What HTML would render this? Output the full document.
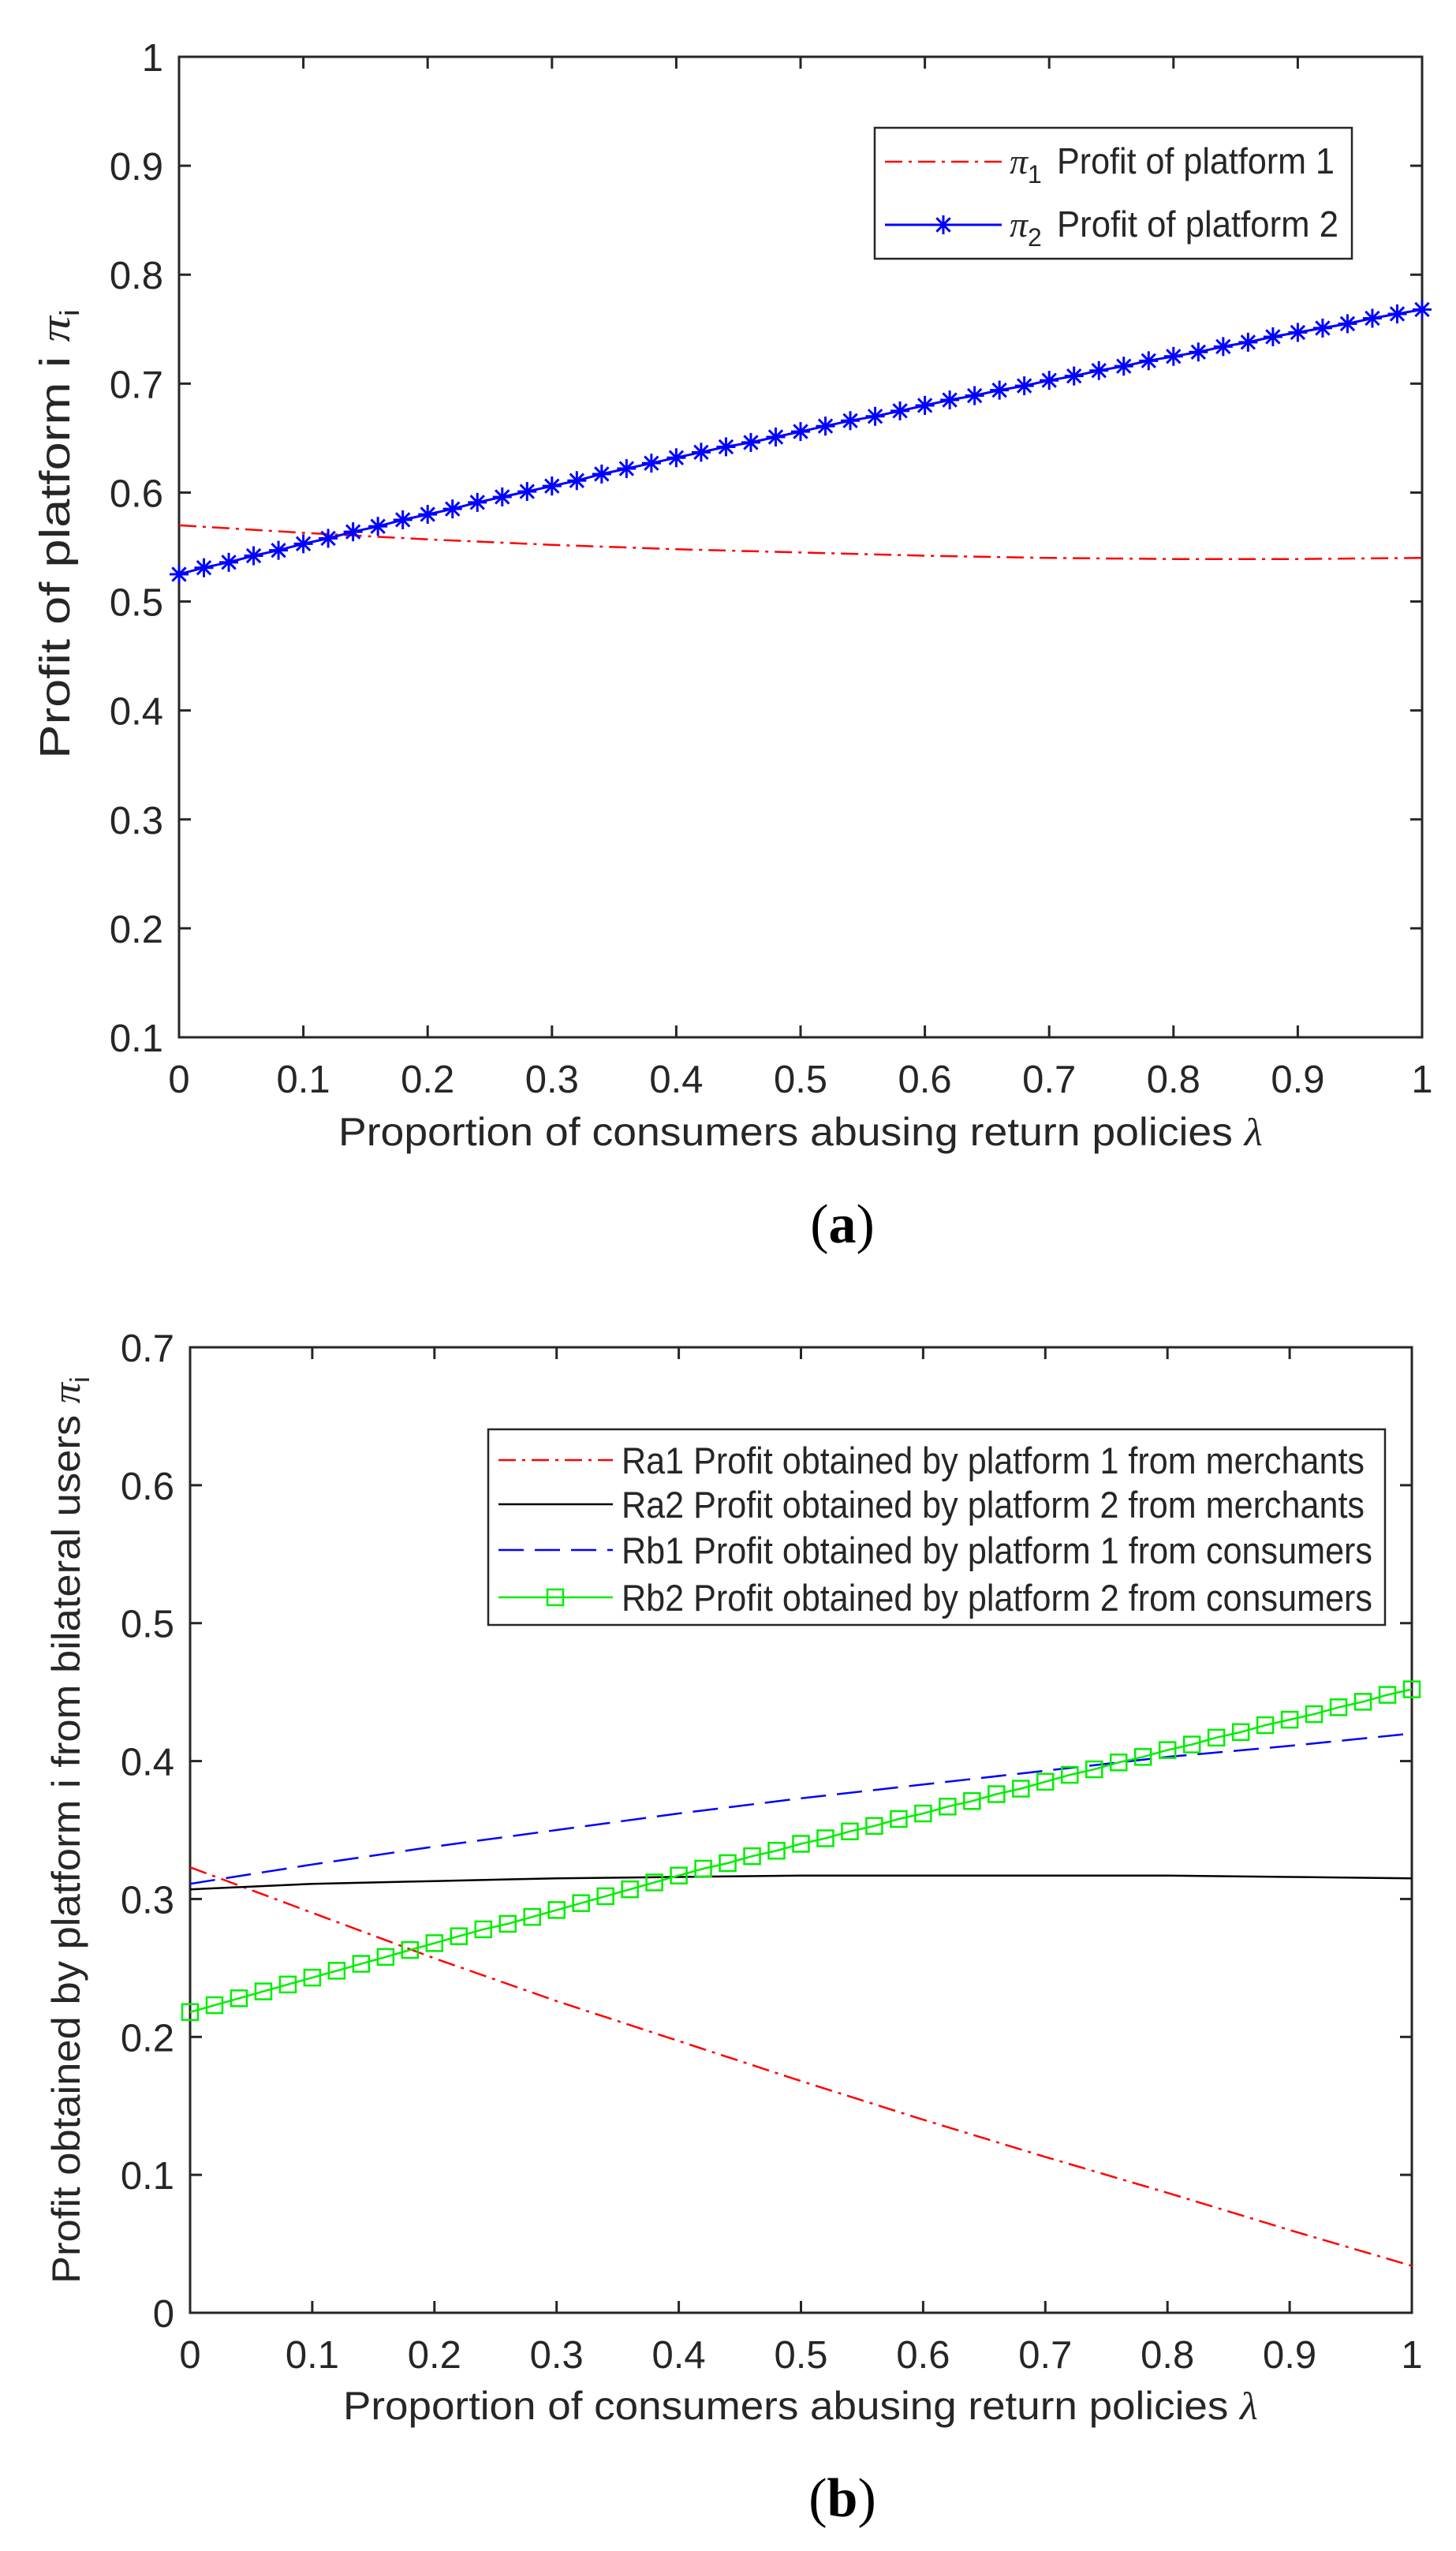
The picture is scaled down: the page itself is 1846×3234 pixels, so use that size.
<!DOCTYPE html>
<html><head><meta charset="utf-8"><style>
html,body{margin:0;padding:0;background:#fff;}
svg{display:block;}
text{font-family:"Liberation Sans",Arial,sans-serif;fill:#262626;}
</style></head><body>
<svg id="fig" width="1846" height="3234" viewBox="0 0 1846 3234" xmlns="http://www.w3.org/2000/svg"></svg>
<script>
// ---- Data: chart (a) ----
const xA11 = [0,0.1,0.2,0.3,0.4,0.5,0.6,0.7,0.8,0.9,1];
const pi1 = [0.570,0.563,0.557,0.552,0.548,0.545,0.542,0.540,0.539,0.539,0.540];
const xA51 = [0,0.02,0.04,0.06,0.08,0.1,0.12,0.14,0.16,0.18,0.2,0.22,0.24,0.26,0.28,0.3,0.32,0.34,0.36,0.38,0.4,0.42,0.44,0.46,0.48,0.5,0.52,0.54,0.56,0.58,0.6,0.62,0.64,0.66,0.68,0.7,0.72,0.74,0.76,0.78,0.8,0.82,0.84,0.86,0.88,0.9,0.92,0.94,0.96,0.98,1];
const pi2 = [0.525,0.531,0.536,0.542,0.547,0.553,0.558,0.564,0.569,0.575,0.580,0.585,0.591,0.596,0.601,0.606,0.611,0.617,0.622,0.627,0.632,0.637,0.642,0.646,0.651,0.656,0.661,0.666,0.670,0.675,0.680,0.685,0.689,0.694,0.698,0.703,0.707,0.712,0.716,0.721,0.725,0.729,0.734,0.738,0.743,0.747,0.751,0.755,0.760,0.764,0.768];
const xTicksA = ["0","0.1","0.2","0.3","0.4","0.5","0.6","0.7","0.8","0.9","1"];
const yTicksA = ["0.1","0.2","0.3","0.4","0.5","0.6","0.7","0.8","0.9","1"];
// ---- Data: chart (b) ----
const ra1 = [0.323,0.290,0.257,0.226,0.197,0.168,0.140,0.113,0.087,0.060,0.034];
const ra2 = [0.307,0.311,0.313,0.315,0.316,0.317,0.317,0.317,0.317,0.316,0.315];
const rb1 = [0.311,0.325,0.338,0.350,0.362,0.373,0.383,0.393,0.403,0.411,0.420];
const rb2 = [0.218,0.223,0.228,0.233,0.238,0.243,0.248,0.253,0.258,0.263,0.268,0.273,0.278,0.282,0.287,0.292,0.297,0.302,0.307,0.312,0.317,0.322,0.326,0.331,0.335,0.340,0.344,0.349,0.353,0.358,0.362,0.367,0.371,0.376,0.380,0.385,0.390,0.394,0.399,0.403,0.408,0.412,0.417,0.421,0.426,0.430,0.434,0.439,0.443,0.448,0.452];
const yTicksB = ["0","0.1","0.2","0.3","0.4","0.5","0.6","0.7"];

const NS="http://www.w3.org/2000/svg";
const svg=document.getElementById('fig');
function mk(tag,attrs,parent){const e=document.createElementNS(NS,tag);for(const k in attrs)e.setAttribute(k,attrs[k]);(parent||svg).appendChild(e);return e;}

function axes(g,L,T,R,B,x0,x1,y0,y1,xt,yt){
  const sx=v=>L+(v-x0)/(x1-x0)*(R-L);
  const sy=v=>B-(v-y0)/(y1-y0)*(B-T);
  const box=mk('rect',{x:L,y:T,width:R-L,height:B-T,fill:'none',stroke:'#262626','stroke-width':3},g);
  
  
  xt.forEach(t=>{const x=sx(parseFloat(t));
    mk('line',{x1:x,y1:B,x2:x,y2:B-15,stroke:'#262626','stroke-width':3},g);
    mk('line',{x1:x,y1:T,x2:x,y2:T+15,stroke:'#262626','stroke-width':3},g);
    const tx=mk('text',{x:x,y:B+70,'font-size':49,'text-anchor':'middle'},g);tx.textContent=t;
    
    
  });
  yt.forEach(t=>{const y=sy(parseFloat(t));
    mk('line',{x1:L,y1:y,x2:L+15,y2:y,stroke:'#262626','stroke-width':3},g);
    mk('line',{x1:R,y1:y,x2:R-15,y2:y,stroke:'#262626','stroke-width':3},g);
    const ty=mk('text',{x:L-20,y:y+18,'font-size':49,'text-anchor':'end'},g);ty.textContent=t;
    
    
  });
  return {sx,sy};
}
function line(g,xs,ys,s,color,dash,w,name){
  const pts=xs.map((x,i)=>s.sx(x).toFixed(1)+','+s.sy(ys[i]).toFixed(1)).join(' ');
  const p=mk('polyline',{points:pts,fill:'none',stroke:color,'stroke-width':w||3,'stroke-dasharray':dash||'none'},g);
  
  
  return p;
}
function star(g,x,y,c){const r=12;
  mk('line',{x1:x-r,y1:y,x2:x+r,y2:y,stroke:c,'stroke-width':3},g);
  mk('line',{x1:x,y1:y-r,x2:x,y2:y+r,stroke:c,'stroke-width':3},g);
  mk('line',{x1:x-r*.72,y1:y-r*.72,x2:x+r*.72,y2:y+r*.72,stroke:c,'stroke-width':3},g);
  mk('line',{x1:x-r*.72,y1:y+r*.72,x2:x+r*.72,y2:y-r*.72,stroke:c,'stroke-width':3},g);
}
function square(g,x,y,c){mk('rect',{x:x-10,y:y-10,width:20,height:20,fill:'none',stroke:c,'stroke-width':2.5},g);}
const DD='22 8 4 8', DASH='32 14';

// ===== Chart (a) =====
const ga=mk('g',{});


const A=axes(ga,227,72,1803,1315,0,1,0.1,1,xTicksA,yTicksA);
line(ga,xA11,pi1,A,'#ff0000',DD,2.5,'pi1-line');
line(ga,xA51,pi2,A,'#0000ff',null,3,'pi2-line');
const mA=mk('g',{},ga);


xA51.forEach((x,i)=>star(mA,A.sx(x),A.sy(pi2[i]),'#0000ff'));
let t;
t=mk('text',{x:1015,y:1452,'font-size':50,'text-anchor':'middle',textLength:1172,lengthAdjust:'spacingAndGlyphs'},ga);
t.innerHTML='Proportion of consumers abusing return policies <tspan font-family="Liberation Serif" font-style="italic">λ</tspan>';


t=mk('text',{x:0,y:0,'font-size':54,'text-anchor':'middle',transform:'translate(88,677) rotate(-90)',textLength:570,lengthAdjust:'spacingAndGlyphs'},ga);
t.innerHTML='Profit of platform i <tspan font-family="Liberation Serif" font-style="italic">π</tspan><tspan font-size="34" dy="12">i</tspan>';


// legend a
const la=mk('g',{},ga);


mk('rect',{x:1109,y:162,width:605,height:166,fill:'#fff',stroke:'#262626','stroke-width':2.5},la);
mk('line',{x1:1122,y1:205,x2:1270,y2:205,stroke:'#ff0000','stroke-width':2.5,'stroke-dasharray':DD},la);
mk('line',{x1:1122,y1:285,x2:1270,y2:285,stroke:'#0000ff','stroke-width':3},la);
star(la,1196,285,'#0000ff');
t=mk('text',{x:1280,y:220,'font-size':46},la);
t.innerHTML='<tspan font-family="Liberation Serif" font-style="italic">π</tspan><tspan font-size="32" dy="12">1</tspan><tspan dy="-12" x="1340" textLength="352" lengthAdjust="spacingAndGlyphs">Profit of platform 1</tspan>';


t=mk('text',{x:1280,y:300,'font-size':46},la);
t.innerHTML='<tspan font-family="Liberation Serif" font-style="italic">π</tspan><tspan font-size="32" dy="12">2</tspan><tspan dy="-12" x="1340" textLength="357" lengthAdjust="spacingAndGlyphs">Profit of platform 2</tspan>';


t=mk('text',{x:1068,y:1575,'font-size':70,'text-anchor':'middle'},ga);
t.innerHTML='(<tspan font-weight="bold">a</tspan>)';
t.style.fontFamily='"Liberation Serif",serif';t.style.fill='#000';



// ===== Chart (b) =====
const gb=mk('g',{});


const Bx=axes(gb,241,1708,1790,2932,0,1,0,0.7,xTicksA,yTicksB);
line(gb,xA11,ra1,Bx,'#ff0000',DD,2.5,'ra1-line');
line(gb,xA11,ra2,Bx,'#000000',null,2.5,'ra2-line');
line(gb,xA11,rb1,Bx,'#0000ff',DASH,2.5,'rb1-line');
line(gb,xA51,rb2,Bx,'#00ee00',null,2.5,'rb2-line');
const mB=mk('g',{},gb);


xA51.forEach((x,i)=>square(mB,Bx.sx(x),Bx.sy(rb2[i]),'#00ee00'));
t=mk('text',{x:1015,y:3067,'font-size':50,'text-anchor':'middle',textLength:1160,lengthAdjust:'spacingAndGlyphs'},gb);
t.innerHTML='Proportion of consumers abusing return policies <tspan font-family="Liberation Serif" font-style="italic">λ</tspan>';


t=mk('text',{x:0,y:0,'font-size':50,'text-anchor':'middle',transform:'translate(101,2320) rotate(-90)',textLength:1150,lengthAdjust:'spacingAndGlyphs'},gb);
t.innerHTML='Profit obtained by platform i from bilateral users <tspan font-family="Liberation Serif" font-style="italic">π</tspan><tspan font-size="34" dy="12">i</tspan>';


const lb=mk('g',{},gb);


mk('rect',{x:619,y:1812,width:1137,height:248,fill:'#fff',stroke:'#262626','stroke-width':2.5},lb);
const rowsY=[1851,1907,1965,2025];
mk('line',{x1:632,y1:rowsY[0],x2:777,y2:rowsY[0],stroke:'#ff0000','stroke-width':2.5,'stroke-dasharray':DD},lb);
mk('line',{x1:632,y1:rowsY[1],x2:777,y2:rowsY[1],stroke:'#000','stroke-width':2.5},lb);
mk('line',{x1:632,y1:rowsY[2],x2:777,y2:rowsY[2],stroke:'#0000ff','stroke-width':2.5,'stroke-dasharray':DASH},lb);
mk('line',{x1:632,y1:rowsY[3],x2:777,y2:rowsY[3],stroke:'#00ee00','stroke-width':2.5},lb);
square(lb,704,rowsY[3],'#00ee00');
const legTxt=['Ra1 Profit obtained by platform 1 from merchants','Ra2 Profit obtained by platform 2 from merchants','Rb1 Profit obtained by platform 1 from consumers','Rb2 Profit obtained by platform 2 from consumers'];
const legLen=[942,942,952,952];
legTxt.forEach((s,i)=>{
  const e=mk('text',{x:788,y:rowsY[i]+17,'font-size':47,textLength:legLen[i],lengthAdjust:'spacingAndGlyphs'},lb);
  e.textContent=s;
  
  
});
t=mk('text',{x:1068,y:3190,'font-size':70,'text-anchor':'middle'},gb);
t.innerHTML='(<tspan font-weight="bold">b</tspan>)';
t.style.fontFamily='"Liberation Serif",serif';t.style.fill='#000';


</script>
</body></html>
